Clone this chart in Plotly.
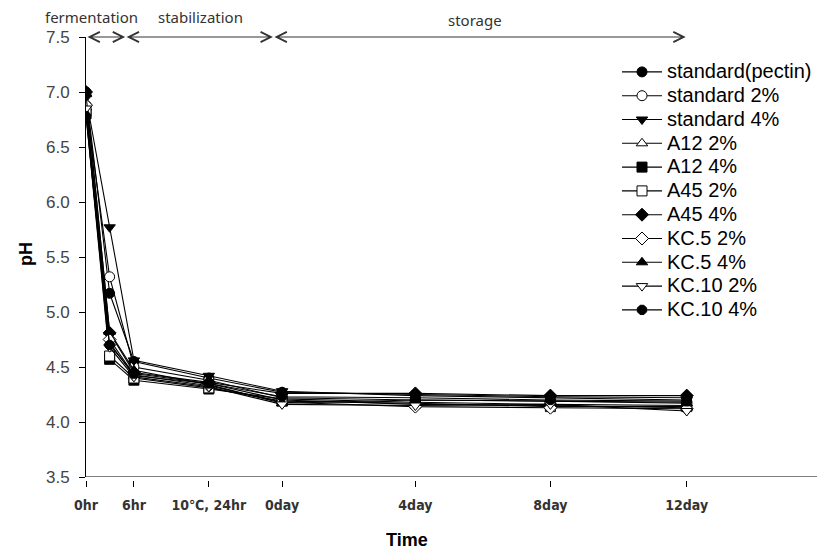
import plotly.graph_objects as go

# sampling positions on the (non-linear) time axis, in axis units
time_pos = [0, 0.70, 1.42, 3.64, 5.81, 9.76, 13.76, 17.8]
tick_pos = [0, 1.42, 3.64, 5.81, 9.76, 13.76, 17.8]
tick_labels = ["0hr", "6hr", "10℃, 24hr", "0day", "4day", "8day", "12day"]

series_names = ["standard(pectin)", "standard 2%", "standard 4%", "A12 2%", "A12 4%",
                "A45 2%", "A45 4%", "KC.5 2%", "KC.5 4%", "KC.10 2%", "KC.10 4%"]

standard_pectin = [7.00, 5.17, 4.55, 4.40, 4.27, 4.25, 4.23, 4.22]
standard_2 = [6.88, 5.32, 4.50, 4.38, 4.22, 4.20, 4.19, 4.18]
standard_4 = [6.95, 5.77, 4.56, 4.42, 4.28, 4.24, 4.22, 4.20]
a12_2 = [6.86, 4.72, 4.42, 4.35, 4.20, 4.16, 4.15, 4.13]
a12_4 = [6.80, 4.57, 4.38, 4.30, 4.21, 4.18, 4.16, 4.15]
a45_2 = [6.82, 4.60, 4.40, 4.31, 4.19, 4.17, 4.14, 4.14]
a45_4 = [7.00, 4.81, 4.45, 4.36, 4.26, 4.26, 4.24, 4.24]
kc5_2 = [6.88, 4.75, 4.43, 4.33, 4.18, 4.14, 4.13, 4.12]
kc5_4 = [6.98, 4.82, 4.47, 4.34, 4.17, 4.20, 4.19, 4.17]
kc10_2 = [6.85, 4.68, 4.41, 4.32, 4.16, 4.15, 4.16, 4.10]
kc10_4 = [6.78, 4.70, 4.44, 4.35, 4.23, 4.22, 4.20, 4.19]

series_values = [standard_pectin, standard_2, standard_4, a12_2, a12_4,
                 a45_2, a45_4, kc5_2, kc5_4, kc10_2, kc10_4]

# marker style: (symbol, filled)
series_markers = [("circle", True), ("circle", False), ("triangle-down", True),
                  ("triangle-up", False), ("square", True), ("square", False),
                  ("diamond", True), ("diamond", False), ("triangle-up", True),
                  ("triangle-down", False), ("octagon", True)]

# phase arrows (start, end) and labels (center, text, vertical shift px)
phases = [(0, 1.16), (1.16, 5.54), (5.54, 17.77)]
phase_labels = [(0.15, "fermentation", 20), (3.38, "stabilization", 20), (11.53, "storage", 17)]

fig = go.Figure()
for name, vals, (sym, filled) in zip(series_names, series_values, series_markers):
    fig.add_trace(go.Scatter(
        x=time_pos, y=vals, mode="lines+markers",
        name='<span style="font-size:20px">' + name + '</span>',
        line=dict(color="black", width=1.1),
        marker=dict(symbol=sym, size=10, color="black" if filled else "white",
                    line=dict(color="black", width=1)),
    ))

annotations = []
for x0, x1 in phases:
    annotations.append(dict(
        x=x1, y=7.5, ax=x0, ay=7.5, xref="x", yref="y", axref="x", ayref="y",
        text="", showarrow=True, arrowside="end+start", arrowhead=5, startarrowhead=5,
        arrowsize=2, startarrowsize=2, arrowwidth=1, arrowcolor="#333", standoff=0, startstandoff=0,
    ))
for xc, txt, sh in phase_labels:
    annotations.append(dict(
        x=xc, y=1, xref="x", yref="paper", yanchor="middle", xanchor="center",
        yshift=sh, text=txt, showarrow=False,
        font=dict(family="Noto Sans, Open Sans, sans-serif", size=15, color="#333"),
    ))
annotations.append(dict(x=(26 - 86) / 731, y=(480 - 254) / 443, xref="paper", yref="paper",
                        xanchor="center", yanchor="middle",
                        text="<b>pH</b>", textangle=-90, showarrow=False,
                        font=dict(family="Liberation Sans, Arial", size=18, color="black")))
annotations.append(dict(x=(407 - 86) / 731, y=(480 - 540) / 443, xref="paper", yref="paper",
                        xanchor="center", yanchor="middle",
                        text="<b>Time</b>", showarrow=False,
                        font=dict(family="Liberation Sans, Arial", size=18, color="black")))

fig.update_layout(
    width=827, height=552,
    margin=dict(l=86, r=10, t=37, b=72, autoexpand=False),
    paper_bgcolor="white", plot_bgcolor="white",
    showlegend=True,
    legend=dict(x=(617 - 86) / 731, y=1 - (55 - 37) / 443, xanchor="left", yanchor="top",
                font=dict(family="Liberation Sans, Arial", size=16, color="black"),
                bgcolor="rgba(0,0,0,0)", itemwidth=40, tracegroupgap=0),
    annotations=annotations,
    shapes=[dict(type="line", xref="paper", yref="y", x0=0, x1=1, y0=3.5, y1=3.5,
                 line=dict(color="black", width=1))],
)
fig.update_xaxes(range=[0, 21.66], tickmode="array", tickvals=tick_pos,
                 ticktext=["<b>" + t + "</b>" for t in tick_labels],
                 showline=False, showgrid=False, zeroline=False, automargin=False,
                 ticks="outside", ticklen=6, tickcolor="black", ticklabelstandoff=6,
                 anchor="free", position=0,
                 tickfont=dict(family="DejaVu Sans Condensed, Liberation Sans Narrow, sans-serif",
                               size=14, color="#333"))
fig.update_yaxes(range=[3.5, 7.5], domain=[3 / 443, 1], dtick=0.5, tickformat=".1f",
                 showline=True, linecolor="black", linewidth=1, showgrid=False, zeroline=False,
                 automargin=False,
                 ticks="outside", ticklen=6, tickcolor="black", ticklabelstandoff=6,
                 tickfont=dict(family="Liberation Sans, Arial", size=17, color="#444"))

fig.write_html("out.html", config={"displayModeBar": False},
               post_script="document.body.style.margin='0';document.body.style.padding='0';")
